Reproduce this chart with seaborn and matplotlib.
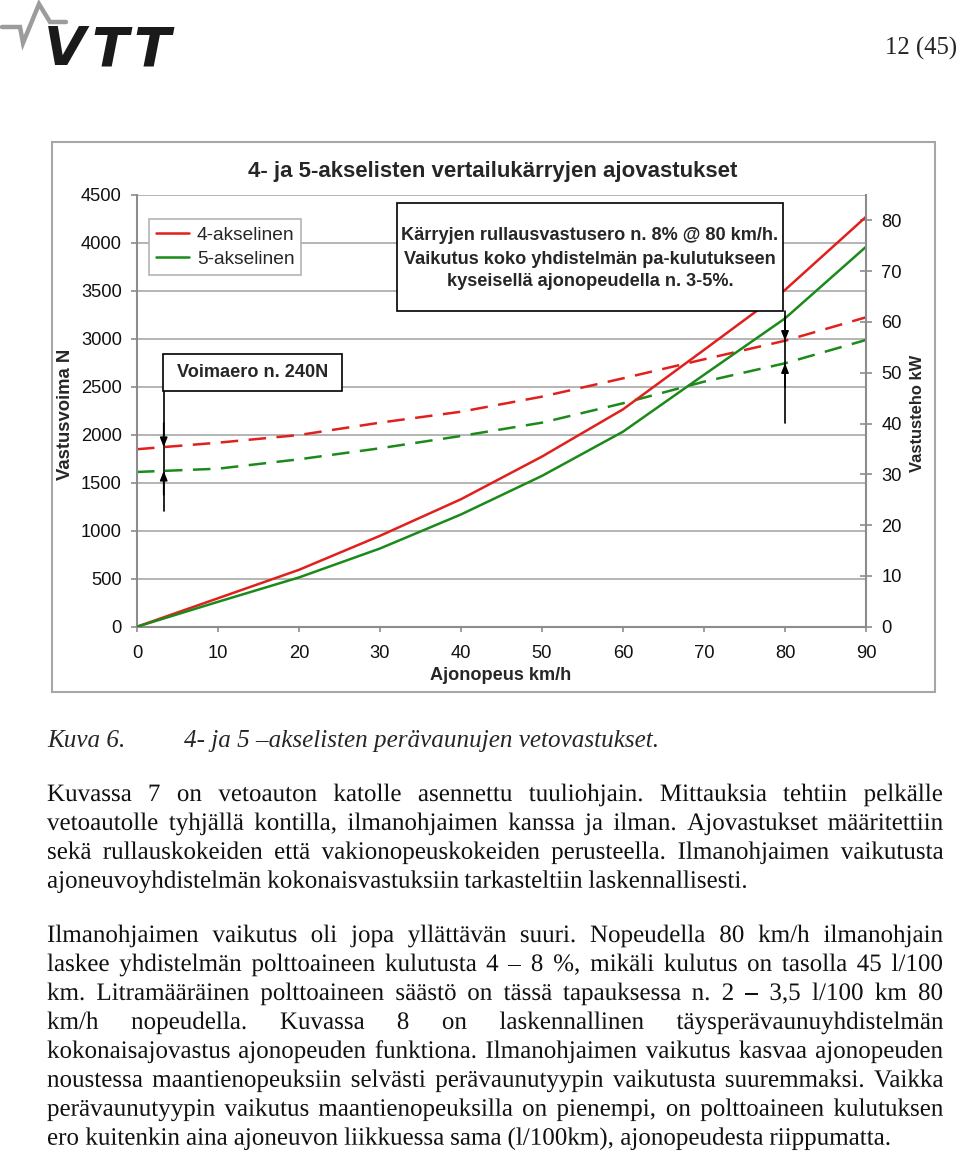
import matplotlib
matplotlib.use("Agg")
import matplotlib.pyplot as plt
import matplotlib.patheffects as pe
import seaborn as sns
import pandas as pd
import numpy as np
from matplotlib.patches import Rectangle
from matplotlib.lines import Line2D

# ---------------- data ----------------
speed_kmh = [0, 10, 20, 30, 40, 50, 60, 70, 80, 90]
force_4axle_N = [1850, 1918, 1998, 2127, 2241, 2398, 2589, 2787, 2981, 3225]
force_5axle_N = [1613, 1647, 1745, 1860, 1988, 2127, 2329, 2554, 2746, 2989]
power_4axle_kW = [0, 5.6, 11.2, 17.9, 25.1, 33.5, 42.8, 54.5, 66.3, 80.7]
power_5axle_kW = [0, 4.9, 9.7, 15.4, 22.1, 29.7, 38.4, 49.6, 60.7, 74.8]
series_names = ["4-akselinen", "5-akselinen"]
left_ticks = [0, 500, 1000, 1500, 2000, 2500, 3000, 3500, 4000, 4500]
right_ticks = [0, 10, 20, 30, 40, 50, 60, 70, 80]
x_ticks = [0, 10, 20, 30, 40, 50, 60, 70, 80, 90]

title = "4- ja 5-akselisten vertailukärryjen ajovastukset"
box1_lines = ["Kärryjen rullausvastusero n. 8% @ 80 km/h.",
              "Vaikutus koko yhdistelmän pa-kulutukseen",
              "kyseisellä ajonopeudella n. 3-5%."]
box2_text = "Voimaero n. 240N"
caption_num = "Kuva 6."
caption_text = "4- ja 5 –akselisten perävaunujen vetovastukset."
para1 = ["Kuvassa 7 on vetoauton katolle asennettu tuuliohjain. Mittauksia tehtiin pelkälle",
         "vetoautolle tyhjällä kontilla, ilmanohjaimen kanssa ja ilman. Ajovastukset määritettiin",
         "sekä rullauskokeiden että vakionopeuskokeiden perusteella. Ilmanohjaimen vaikutusta",
         "ajoneuvoyhdistelmän kokonaisvastuksiin tarkasteltiin laskennallisesti."]
para2 = ["Ilmanohjaimen vaikutus oli jopa yllättävän suuri.  Nopeudella 80 km/h ilmanohjain",
         "laskee yhdistelmän polttoaineen kulutusta 4 – 8 %, mikäli kulutus on tasolla 45 l/100",
         "km. Litramääräinen polttoaineen säästö on tässä tapauksessa n. 2 – 3,5 l/100 km 80",
         "km/h nopeudella. Kuvassa 8 on laskennallinen täysperävaunuyhdistelmän",
         "kokonaisajovastus ajonopeuden funktiona. Ilmanohjaimen vaikutus kasvaa ajonopeuden",
         "noustessa maantienopeuksiin selvästi perävaunutyypin vaikutusta suuremmaksi. Vaikka",
         "perävaunutyypin vaikutus maantienopeuksilla on pienempi, on polttoaineen kulutuksen",
         "ero kuitenkin aina ajoneuvon liikkuessa sama (l/100km), ajonopeudesta riippumatta."]

RED = "#e0201c"
GREEN = "#1b8a1b"
GRID = "#a8a8a8"
SPINE = "#8c8c8c"
SANS = ["Liberation Sans", "DejaVu Sans"]
SERIF = ["Liberation Serif", "DejaVu Serif"]

W, H = 960, 1154
sns.set_theme(style="white")
plt.rcParams["font.family"] = SANS

fig = plt.figure(figsize=(W / 100, H / 100), dpi=100)
fig.patch.set_facecolor("white")
renderer = fig.canvas.get_renderer()


def fx(x):
    return x / W


def fy(y):
    return 1 - y / H


def text_w(s, size, **kw):
    t = fig.text(0, 0, s, fontsize=size, **kw)
    bb = t.get_window_extent(renderer)
    t.remove()
    return max(bb.width, bb.height)


def fit(s, target, **kw):
    return 12 * target / text_w(s, 12, **kw)


# ---------------- chart frame ----------------
fig.add_artist(Rectangle((fx(51.7), fy(691.7)), fx(935) - fx(51.7), fy(141.7) - fy(691.7),
                         transform=fig.transFigure, fill=False, edgecolor="#a6a6a6", lw=1.5, zorder=0))

ax = fig.add_axes([fx(137), fy(626.7), (866 - 137) / W, (626.7 - 195) / H])
ax2 = ax.twinx()

df_force = pd.DataFrame({"Ajonopeus": speed_kmh * 2,
                         "Voima": force_4axle_N + force_5axle_N,
                         "Perävaunu": [series_names[0]] * len(speed_kmh) + [series_names[1]] * len(speed_kmh)})
df_power = pd.DataFrame({"Ajonopeus": speed_kmh * 2,
                         "Teho": power_4axle_kW + power_5axle_kW,
                         "Perävaunu": [series_names[0]] * len(speed_kmh) + [series_names[1]] * len(speed_kmh)})
palette = {series_names[0]: RED, series_names[1]: GREEN}

sns.lineplot(data=df_force, x="Ajonopeus", y="Voima", hue="Perävaunu", palette=palette,
             ax=ax, legend=False, linewidth=1.8)
for ln in ax.lines:
    ln.set_linestyle((0, (7.0, 4.2)))
sns.lineplot(data=df_power, x="Ajonopeus", y="Teho", hue="Perävaunu", palette=palette,
             ax=ax2, legend=False, linewidth=1.8)

ax.set_xlim(0, 90)
ax.set_ylim(0, 4500)
ax2.set_ylim(0, 85)
ax.set_xticks(x_ticks)
ax.set_yticks(left_ticks)
ax2.set_yticks(right_ticks)
ax.set_xlabel("")
ax.set_ylabel("")
ax2.set_ylabel("")
ax.grid(False)
ax2.grid(False)
ax.yaxis.grid(True, color=GRID, lw=1.2)
ax.set_axisbelow(True)
ax.set_facecolor("white")

for s in ["top", "right"]:
    ax.spines[s].set_visible(False)
for s in ["top", "left", "bottom"]:
    ax2.spines[s].set_visible(False)
for a, s in [(ax, "left"), (ax, "bottom"), (ax2, "right")]:
    a.spines[s].set_color(SPINE)
    a.spines[s].set_linewidth(1.5)

TICK_FS = 13.2
ax.tick_params(axis="y", direction="out", length=4, width=1.2, color=SPINE, pad=7,
               labelsize=TICK_FS, labelcolor="#111111", left=True)
ax.tick_params(axis="x", direction="out", length=3.5, width=1.2, color=SPINE, pad=10,
               labelsize=TICK_FS, labelcolor="#111111", bottom=True)
ax2.tick_params(axis="y", direction="inout", length=8, width=1.2, color=SPINE, pad=7,
                labelsize=TICK_FS, labelcolor="#111111", right=True)

# legend
handles = [Line2D([], [], color=RED, lw=1.8), Line2D([], [], color=GREEN, lw=1.8)]
leg = ax2.legend(handles, series_names, loc="upper left", bbox_to_anchor=(fx(149.3), fy(219.3)),
                 bbox_transform=fig.transFigure, borderaxespad=0, frameon=True, fancybox=False,
                 edgecolor="#b4b4b4", facecolor="white", framealpha=1, fontsize=13.8,
                 handlelength=1.7, handletextpad=0.42, labelspacing=0.36, borderpad=0.36)
leg.get_frame().set_linewidth(1.2)
leg.set_zorder(20)

# title and axis labels
fig.text(fx(493), fy(172), title, ha="center", va="center", fontweight="bold",
         fontsize=fit(title, 489, fontweight="bold"))
fig.text(fx(501), fy(676), "Ajonopeus km/h", ha="center", va="center", fontweight="bold",
         fontsize=fit("Ajonopeus km/h", 140, fontweight="bold"))
fig.text(fx(66), fy(414), "Vastusvoima N", ha="center", va="center", rotation=90, fontweight="bold",
         fontsize=fit("Vastusvoima N", 131, fontweight="bold"))
fig.text(fx(918), fy(413), "Vastusteho kW", ha="center", va="center", rotation=90, fontweight="bold",
         fontsize=fit("Vastusteho kW", 117, fontweight="bold"))

# annotation boxes
fig.add_artist(Rectangle((fx(396.7), fy(311)), fx(783.3) - fx(396.7), fy(202.7) - fy(311),
                         transform=fig.transFigure, facecolor="white", edgecolor="black", lw=1.2, zorder=5))
bsize = fit(box1_lines[0], 374, fontweight="bold")
for yy, s in zip([235, 259, 282], box1_lines):
    fig.text(fx(590), fy(yy), s, ha="center", va="center", fontweight="bold", fontsize=bsize, zorder=6)

fig.add_artist(Rectangle((fx(163.3), fy(391)), fx(342) - fx(163.3), fy(354) - fy(391),
                         transform=fig.transFigure, facecolor="white", edgecolor="black", lw=1.2, zorder=5))
fig.text(fx(253), fy(373), box2_text, ha="center", va="center", fontweight="bold",
         fontsize=fit(box2_text, 150, fontweight="bold"), zorder=6)


# arrows (in data coordinates of the force axis)
def arrow_pair(xv, top, bottom):
    f4 = np.interp(xv, speed_kmh, force_4axle_N)
    f5 = np.interp(xv, speed_kmh, force_5axle_N)
    ax2.plot([xv, xv], [top, bottom], color="black", lw=1.2, transform=ax.transData, zorder=8)
    kw = dict(arrowstyle="-|>,head_length=0.55,head_width=0.22", color="black", lw=1.2,
              shrinkA=0, shrinkB=0, mutation_scale=10)
    ax2.annotate("", xy=(xv, f4), xytext=(xv, f4 + 250), xycoords=ax.transData,
                 textcoords=ax.transData, arrowprops=kw, zorder=8)
    ax2.annotate("", xy=(xv, f5), xytext=(xv, f5 - 250), xycoords=ax.transData,
                 textcoords=ax.transData, arrowprops=kw, zorder=8)


arrow_pair(80, 3290, 2120)
arrow_pair(3.3, 2457, 1209)

# ---------------- page elements ----------------
# logo
fig.add_artist(Line2D([fx(2), fx(20), fx(23), fx(39), fx(50), fx(66)],
                      [fy(27), fy(27), fy(43), fy(4), fy(22), fy(22)],
                      transform=fig.transFigure, color="#9c9c9c", lw=3.2, solid_joinstyle="miter"))
LOGO_FS = 39
for ch, xl in zip("VTT", [44, 91, 133]):
    fig.text(fx(xl), fy(65), ch, ha="left", va="baseline", family=["DejaVu Sans"], fontweight="heavy",
             style="italic", fontsize=LOGO_FS, color="#1a1a1a")

fig.text(fx(957), fy(55), "12 (45)", ha="right", va="baseline", family=SERIF,
         fontsize=fit("12 (45)", 72, family=SERIF))

# caption
csize = fit(caption_text, 475, family=SERIF, style="italic")
fig.text(fx(47), fy(747), caption_num, ha="left", va="baseline", family=SERIF, style="italic", fontsize=csize)
fig.text(fx(184), fy(747), caption_text, ha="left", va="baseline", family=SERIF, style="italic", fontsize=csize)

# body text: justified, one text per word; drawn as paths so all words share an exact baseline
body_size = fit(para2[-1], 845, family=SERIF)
space_w = text_w("a a", body_size, family=SERIF) - text_w("aa", body_size, family=SERIF)
X0, X1 = 47, 943
PATH_FX = [pe.Normal()]


def put_line(line, yb, justify):
    words = line.split()
    texts = [fig.text(0, fy(yb), w, ha="left", va="baseline", family=SERIF, fontsize=body_size,
                      color="#111111", path_effects=PATH_FX) for w in words]
    widths = [t.get_window_extent(renderer).width for t in texts]
    gap = (X1 - X0 - sum(widths)) / (len(words) - 1) if (justify and len(words) > 1) else space_w
    x = X0
    for t, w in zip(texts, widths):
        t.set_x(fx(x))
        x += w + gap


for i, line in enumerate(para1):
    put_line(line, 801 + 28.9 * i, i < len(para1) - 1)
for i, line in enumerate(para2):
    put_line(line, 942 + 28.96 * i, i < len(para2) - 1)

fig.savefig("out.png", dpi=100, facecolor="white")
